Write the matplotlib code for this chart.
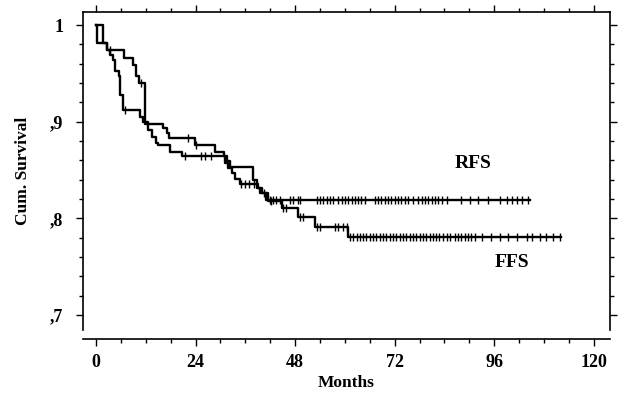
import numpy as np
import matplotlib
matplotlib.use("Agg")
import matplotlib.pyplot as plt
from matplotlib.ticker import MultipleLocator

# Kaplan-Meier steps (month of step, survival after step)
rfs_time = [0, 1.6, 2.6, 6.8, 9.0, 9.6, 10.4, 11.8, 16.2, 17.0, 17.6, 23.8,
            28.6, 30.8, 31.6, 32.2, 37.9, 38.8, 40.0, 41.1, 104.6]
rfs_surv = [1.0, 0.981, 0.974, 0.966, 0.959, 0.947, 0.940, 0.898, 0.893, 0.888,
            0.883, 0.876, 0.869, 0.864, 0.859, 0.853, 0.840, 0.831, 0.826, 0.819,
            0.819]
rfs_cens = [3.4, 10.8, 22.2, 24.2, 40.6, 41.9, 42.7, 43.5, 44.3, 46.7, 47.5,
            48.7, 49.1, 53.2, 54.0, 54.8, 55.6, 56.4, 57.2, 58.4, 59.2, 60.0,
            60.8, 61.6, 62.4, 63.2, 64.0, 64.8, 67.2, 68.0, 68.8, 69.6, 70.4,
            71.2, 72.0, 72.8, 73.6, 74.4, 75.3, 76.5, 77.7, 78.5, 79.3, 80.1,
            80.9, 81.7, 82.5, 83.3, 84.5, 88.1, 90.1, 92.1, 94.5, 97.3, 99.0,
            100.2, 101.4, 102.6, 104.2]

ffs_time = [0, 0.3, 2.6, 3.4, 4.2, 4.6, 5.6, 5.8, 6.6, 10.6, 11.4, 12.6, 13.4,
            14.4, 15.0, 17.8, 20.8, 31.0, 31.9, 32.7, 33.5, 34.7, 39.1, 39.6,
            41.5, 44.8, 48.7, 52.8, 60.7, 112.2]
ffs_surv = [1.0, 0.981, 0.974, 0.969, 0.964, 0.952, 0.947, 0.928, 0.912, 0.905,
            0.900, 0.891, 0.884, 0.878, 0.876, 0.869, 0.864, 0.857, 0.852,
            0.847, 0.841, 0.836, 0.831, 0.826, 0.818, 0.811, 0.801, 0.791,
            0.781, 0.781]
ffs_cens = [7.0, 21.4, 25.4, 26.2, 27.8, 35.0, 36.0, 37.0, 38.0, 42.3, 45.1,
            45.9, 49.1, 49.9, 53.2, 54.0, 57.6, 58.4, 59.6, 60.4, 61.2, 62.0,
            62.8, 63.6, 64.4, 65.2, 66.0, 66.8, 67.6, 68.4, 69.2, 70.0, 70.8,
            71.6, 72.4, 73.2, 74.0, 74.8, 75.6, 76.4, 77.2, 78.0, 78.8, 79.6,
            80.4, 81.2, 82.0, 82.8, 83.6, 84.5, 85.3, 86.5, 87.3, 88.1, 88.9,
            89.7, 90.5, 91.3, 93.0, 95.3, 97.3, 99.4, 101.4, 103.8, 105.0,
            107.0, 108.6, 110.2, 111.8]

x_ticks = [0, 24, 48, 72, 96, 120]
y_ticks = [0.7, 0.8, 0.9, 1.0]
y_labels = [",7", ",8", ",9", "1"]

plt.rcParams["font.family"] = ["Liberation Serif", "DejaVu Serif"]
plt.rcParams["font.weight"] = "bold"

fig = plt.figure(figsize=(6.18, 3.96), dpi=100)
ax = fig.add_axes([0.1343, 0.1667, 0.8527, 0.803])


def at(times, surv, t):
    i = np.searchsorted(times, t, side="right") - 1
    return np.asarray(surv)[i]


for t, s, c in [(rfs_time, rfs_surv, rfs_cens), (ffs_time, ffs_surv, ffs_cens)]:
    ax.step(t, s, where="post", color="black", lw=1.7)
    ax.plot(c, at(t, s, c), ls="none", marker="|", ms=5.5, mew=1.0, color="black")

ax.set_xlim(-3.13, 123.9)
ax.set_ylim(0.6845, 1.0135)

ax.xaxis.set_major_locator(MultipleLocator(24))
ax.xaxis.set_minor_locator(MultipleLocator(6))
ax.yaxis.set_minor_locator(MultipleLocator(0.02))
ax.set_xticks(x_ticks)
ax.set_yticks(y_ticks)
ax.set_yticklabels(y_labels)

ax.tick_params(which="both", direction="out", top=True, right=True,
               labeltop=False, labelright=False, width=1.0, color="black")
ax.tick_params(which="major", length=5, labelsize=13)
ax.tick_params(which="minor", length=3)
ax.tick_params(axis="y", which="major", pad=9)
ax.tick_params(axis="x", which="major", pad=6)

for sp in ax.spines.values():
    sp.set_linewidth(1.2)
ax.spines["bottom"].set_position(("outward", 6.5))

for lab in ax.get_xticklabels() + ax.get_yticklabels():
    lab.set_fontweight("bold")

ax.set_xlabel("Months", fontsize=12.5, fontweight="bold", labelpad=3)
ax.set_ylabel("Cum. Survival", fontsize=12.5, fontweight="bold", labelpad=14)

ax.text(90.8, 0.857, "RFS", fontsize=14, fontweight="bold", ha="center", va="center")
ax.text(100.2, 0.754, "FFS", fontsize=14, fontweight="bold", ha="center", va="center")

fig.savefig("out.png", dpi=100)
